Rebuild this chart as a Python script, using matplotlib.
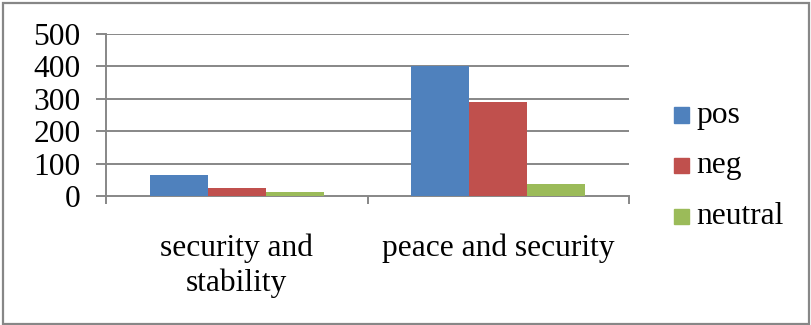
import matplotlib
matplotlib.use("Agg")
import matplotlib.pyplot as plt
from matplotlib.patches import Rectangle
import numpy as np

categories = ["security and\nstability", "peace and security"]
series_names = ["pos", "neg", "neutral"]
pos = [66, 400]
neg = [25, 290]
neutral = [12, 38]
yticks = [0, 100, 200, 300, 400, 500]
colors = ["#4F81BD", "#C0504D", "#9BBB59"]

FS = 22.7
W, H = 811, 325
fig = plt.figure(figsize=(W / 100, H / 100), dpi=100)
plt.rcParams['font.family'] = ['Liberation Serif', 'DejaVu Serif']

ax_left, ax_right, ax_top, ax_bottom = 106, 629, 34, 196
ax = fig.add_axes([ax_left / W, (H - ax_bottom) / H, (ax_right - ax_left) / W, (ax_bottom - ax_top) / H])

gray = "#878787"
x = np.arange(len(categories))
bw = 0.222
for i, vals in enumerate([pos, neg, neutral]):
    ax.bar(x + (i - 1) * bw, vals, width=bw, color=colors[i], edgecolor="none", zorder=3)

ax.set_xlim(-0.5, len(categories) - 0.5)
ax.set_ylim(0, 500)
ax.set_yticks(yticks)
ax.set_yticklabels([str(v) for v in yticks], fontsize=FS, family='Liberation Serif')
for v in yticks[1:]:
    ax.axhline(v, color=gray, lw=1.4, zorder=1)

for s in ["top", "right"]:
    ax.spines[s].set_visible(False)
for s in ["left", "bottom"]:
    ax.spines[s].set_color(gray)
    ax.spines[s].set_linewidth(1.4)
ax.tick_params(axis="y", direction="out", length=7.2, width=1.4, color=gray, pad=11)

ax.set_xticks(np.arange(len(categories) + 1) - 0.5)
ax.set_xticklabels([])
ax.tick_params(axis="x", which="major", direction="out", length=5.8, width=1.4, color=gray)
ax.set_xticks(x, minor=True)
ax.set_xticklabels(categories, minor=True, fontsize=FS, family='Liberation Serif', linespacing=1.25)
ax.tick_params(axis="x", which="minor", length=0, pad=27)

# legend
for i, name in enumerate(series_names):
    cy = 115 + i * 50.5
    fig.patches.append(Rectangle((674 / W, (H - cy - 7.5) / H), 15 / W, 15 / H,
                                 transform=fig.transFigure, color=colors[i], figure=fig))
    fig.text(696 / W, (H - cy) / H, name, fontsize=FS, family='Liberation Serif',
             va="center", ha="left")

# outer border
fig.patches.append(Rectangle((3 / W, 1.5 / H), (W - 5) / W, (H - 4) / H, transform=fig.transFigure,
                             fill=False, edgecolor=gray, lw=1.6, figure=fig))

fig.savefig("out.png", dpi=100)
